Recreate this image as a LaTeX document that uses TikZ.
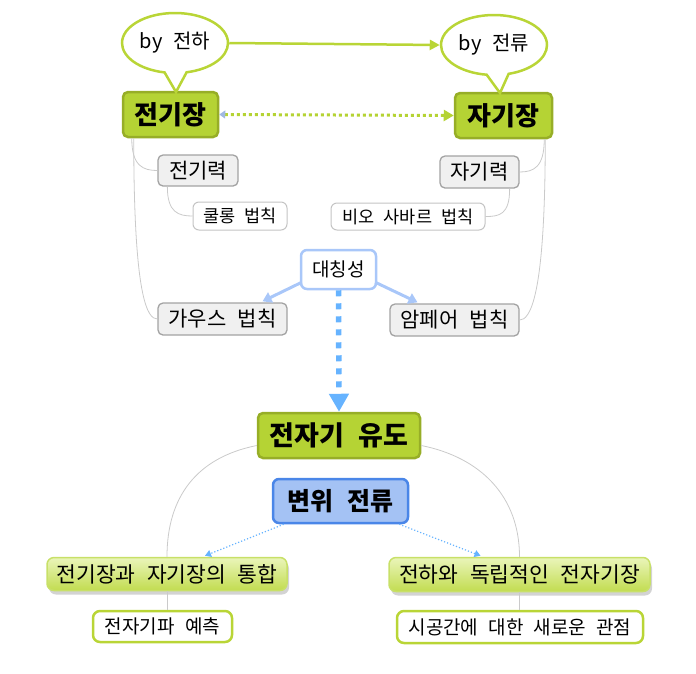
\documentclass[tikz,border=0pt]{standalone}
\usepackage{fontspec}
\setmainfont{Noto Sans CJK KR}[WordSpace=2.4]
\usetikzlibrary{shapes.callouts,shapes.geometric,arrows.meta,calc,shadows}
\definecolor{kgreen}{HTML}{B5D334}
\definecolor{kgreendark}{HTML}{97AE27}
\definecolor{bubgreen}{HTML}{B9D536}
\definecolor{greyfill}{HTML}{F0F0F0}
\definecolor{greyline}{HTML}{A3A3A3}
\definecolor{lightline}{HTML}{C4C4C4}
\definecolor{symblue}{HTML}{A9C7F9}
\definecolor{dashblue}{HTML}{66B3FF}
\definecolor{boxblue}{HTML}{A4C2F4}
\definecolor{boxbluedark}{HTML}{4A86E8}
\definecolor{lgtop}{HTML}{EAF5BA}
\definecolor{lgbot}{HTML}{C2DC50}
\definecolor{lgline}{HTML}{C8E068}
\definecolor{conn}{HTML}{CACACA}
\newcommand{\fs}[1]{\fontsize{#1}{#1}\selectfont}
\begin{document}
\begin{tikzpicture}[x=1pt,y=-1pt,
  every node/.style={inner sep=0pt,align=center,text=black},
  bubble/.style={ellipse callout,draw=bubgreen,line width=2.5pt,fill=white,minimum width=106pt,minimum height=60pt,callout pointer arc=24,font=\fs{20}},
  mainbox/.style={fill=kgreen,draw=kgreendark,line width=2.5pt,rounded corners=5pt,font=\bfseries\fs{26}},
  greybox/.style={fill=greyfill,draw=greyline,line width=1.3pt,rounded corners=5pt,font=\fs{21}},
  whitebox/.style={fill=white,draw=lightline,line width=1pt,rounded corners=6pt,font=\fs{17.5}},
  symbox/.style={fill=white,draw=symblue,line width=2.5pt,rounded corners=6pt,font=\fs{19}},
  bluebox/.style={fill=boxblue,draw=boxbluedark,line width=2.5pt,rounded corners=6pt,font=\bfseries\fs{25}},
  lgbox/.style={top color=lgtop,bottom color=lgbot,draw=lgline,line width=1.5pt,rounded corners=7pt,font=\fs{21.5},drop shadow={shadow xshift=2pt,shadow yshift=-4pt,opacity=0.35}},
  wgbox/.style={fill=white,draw=bubgreen,line width=2.5pt,rounded corners=7pt,font=\fs{19}},
  conline/.style={draw=conn,line width=0.8pt},
  symarrow/.style={draw=symblue,line width=3pt,-{Triangle[length=9pt,width=11pt]}},
  disarrow/.style={draw=dashblue,line width=1.2pt,dotted,-{Triangle[length=6pt,width=7pt]}}
]
\useasboundingbox (0,0) rectangle (696,673);
% top nodes
\node[mainbox,minimum width=95pt,minimum height=45pt] (jg) at (170.5,114.5) {전기장};
\node[mainbox,minimum width=97pt,minimum height=45pt] (mg) at (503.5,115.5) {자기장};
\node[bubble,callout absolute pointer={(176,92)}] (ba) at (175,43) {by 전하};
\node[bubble,callout absolute pointer={(500,93)}] (bb) at (494,45) {by 전류};
\node[greybox,minimum width=80pt,minimum height=31pt] (jgr) at (198,170.5) {전기력};
\node[whitebox,minimum width=94pt,minimum height=28pt] (cou) at (240,216) {쿨롱 법칙};
\node[greybox,minimum width=79pt,minimum height=32pt] (mgr) at (479.5,172) {자기력};
\node[whitebox,minimum width=154pt,minimum height=27pt] (bio) at (408,216.5) {비오 사바르 법칙};
\node[symbox,minimum width=75pt,minimum height=39pt] (sym) at (338.5,269.5) {대칭성};
\node[greybox,minimum width=129pt,minimum height=32pt] (gau) at (222.5,319) {가우스 법칙};
\node[greybox,minimum width=129pt,minimum height=32pt] (amp) at (454.5,320) {암페어 법칙};
% lower nodes
\node[mainbox,minimum width=162pt,minimum height=45pt,font=\bfseries\fs{27}] (emi) at (339,435.5) {전자기 유도};
\node[bluebox,minimum width=135pt,minimum height=44pt] (dis) at (340.5,501) {변위 전류};
\node[lgbox,minimum width=240pt,minimum height=33pt] (uni) at (167,574) {전기장과 자기장의 통합};
\node[lgbox,minimum width=261pt,minimum height=34pt] (ind) at (519.5,574.5) {전하와 독립적인 전자기장};
\node[wgbox,minimum width=139pt,minimum height=31pt] (wav) at (162.5,626.5) {전자기파 예측};
\node[wgbox,minimum width=246pt,minimum height=32pt] (spt) at (520,627) {시공간에 대한 새로운 관점};
% connectors top
\draw[draw=bubgreen,line width=2.5pt,-{Triangle[length=10pt,width=10pt]}] (ba.east) -- (bb.west);
\draw[draw=kgreen,line width=3pt,dash pattern=on 3pt off 3pt,
  {Triangle[length=6pt,width=8pt,color=symblue!80!gray]}-{Triangle[length=10pt,width=11pt,color=kgreen]}] (jg.east) -- (mg.west);
\draw[conline] ($(jg.south west)+(10,0)$) .. controls +(0,28) and +(-14,0) .. (jgr.west);
\draw[conline] ($(jg.south west)+(12,0)$) .. controls +(0,160) and +(-10,0) .. (gau.west);
\draw[conline] ($(jgr.south west)+(10,0)$) .. controls +(0,26) and +(-14,0) .. (cou.west);
\draw[conline] ($(mg.south east)+(-9,0)$) .. controls +(0,28) and +(14,0) .. (mgr.east);
\draw[conline] ($(mg.south east)+(-8,0)$) .. controls +(0,160) and +(10,0) .. (amp.east);
\draw[conline] ($(mgr.south east)+(-10,0)$) .. controls +(0,26) and +(14,0) .. (bio.east);
% symmetry arrows
\draw[symarrow] ($(sym.south west)+(2,-8)$) -- ($(gau.north)+(40,-1)$);
\draw[symarrow] ($(sym.south east)+(-2,-8)$) -- ($(amp.north)+(-37,-1)$);
\draw[draw=dashblue,line width=5.5pt,dash pattern=on 6pt off 7pt,-{Triangle[length=18pt,width=19pt,color=dashblue]}] (sym.south) -- (emi.north);
% lower connectors
\draw[conline] ($(emi.west)+(0,10)$) .. controls +(-60,12) and +(0,-60) .. (uni.north);
\draw[conline] ($(emi.east)+(0,10)$) .. controls +(60,12) and +(0,-60) .. (ind.north);
\draw[conline] (uni.south) -- (uni.south |- wav.north);
\draw[conline] (ind.south) -- (ind.south |- spt.north);
\draw[disarrow] ($(dis.south west)+(12,0)$) -- ($(uni.north)+(38,-1)$);
\draw[disarrow] ($(dis.south east)+(-10,0)$) -- ($(ind.north)+(-39,-1)$);
\end{tikzpicture}
\end{document}
